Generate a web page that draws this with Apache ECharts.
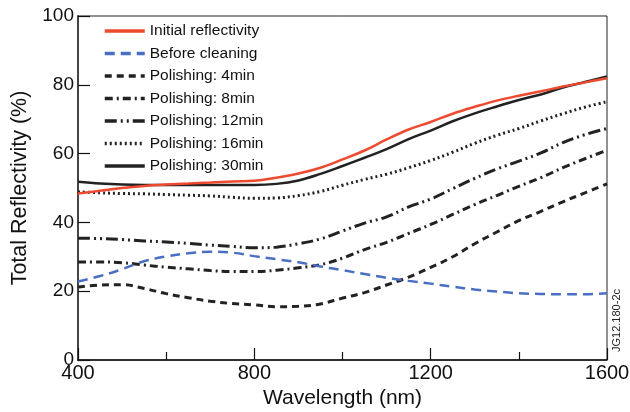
<!DOCTYPE html>
<html><head><meta charset="utf-8">
<script src="https://cdn.jsdelivr.net/npm/echarts@6/dist/echarts.min.js"></script>
<style>html,body{margin:0;padding:0;background:#fff}#c{width:630px;height:412px}</style>
</head><body><div id="c"></div>
<script>
var wavelengths = [400,450,500,550,600,650,700,750,800,850,900,950,1000,1050,1100,1150,1200,1250,1300,1350,1400,1450,1500,1550,1600];
var initialRefl = [48.4,49.2,50.0,50.6,51.0,51.3,51.6,51.9,52.1,53.0,54.2,55.9,58.3,60.9,64.1,67.0,69.2,71.6,73.6,75.4,76.8,78.1,79.5,80.7,81.9];
var beforeCleaning = [22.8,24.4,26.4,28.7,30.1,31.0,31.5,31.2,30.2,29.3,28.4,27.2,26.1,25.0,23.9,23.0,22.2,21.3,20.5,19.9,19.4,19.2,19.1,19.1,19.4];
var pol4 = [21.2,21.8,21.9,20.8,19.3,18.1,17.1,16.4,16.0,15.5,15.6,16.3,18.0,19.6,21.8,24.1,26.9,30.0,33.8,37.2,40.5,43.2,46.0,48.6,51.2];
var pol8 = [28.5,28.5,28.3,27.6,27.0,26.5,26.0,25.7,25.7,26.1,26.8,27.7,29.6,32.1,34.2,36.8,39.4,42.3,45.2,47.8,50.5,53.0,55.9,58.5,61.0];
var pol12 = [35.4,35.3,35.0,34.6,34.3,33.9,33.4,33.0,32.6,32.8,33.8,35.2,37.5,39.8,41.6,44.5,46.8,49.8,52.8,55.5,57.8,60.2,63.2,65.5,67.3];
var pol16 = [48.9,48.6,48.4,48.3,48.1,47.9,47.7,47.3,47.0,47.1,47.8,49.0,50.8,52.5,54.0,55.9,58.0,60.4,63.0,65.3,67.3,69.5,71.6,73.5,75.1];
var pol30 = [51.8,51.3,51.0,50.9,50.9,50.9,50.9,50.9,50.9,51.2,52.2,54.1,56.4,58.8,61.3,64.2,66.7,69.4,71.7,73.7,75.6,77.2,79.2,80.8,82.4];
var seriesNames = ['Initial reflectivity','Before cleaning','Polishing: 4min','Polishing: 8min','Polishing: 12min','Polishing: 16min','Polishing: 30min'];
var xTicks = [400,800,1200,1600];
var yTicks = [0,20,40,60,80,100];

function pairs(arr){ return wavelengths.map(function(w,i){ return [w, arr[i]]; }); }
var styles = [
  {color:'#ee4a2f', width:2.5, type:'solid'},
  {color:'#4a6fc2', width:2.5, type:[10,6]},
  {color:'#222', width:3, type:[7,5]},
  {color:'#222', width:3, type:[8,4,2,4]},
  {color:'#222', width:3, type:[12,4,2,4,2,4]},
  {color:'#222', width:3, type:[2,3]},
  {color:'#222', width:2.5, type:'solid'}
];
var datas = [initialRefl, beforeCleaning, pol4, pol8, pol12, pol16, pol30];
var series = datas.map(function(d,i){
  return {
    name: seriesNames[i], type:'line', data: pairs(d), smooth:0.4, symbol:'none',
    lineStyle:{color:styles[i].color, width:styles[i].width, type:styles[i].type},
    itemStyle:{color:styles[i].color}, z: 10 - i
  };
});
var font = 'Liberation Sans, Arial, sans-serif';
var chart = echarts.init(document.getElementById('c'));
chart.setOption({
  animation:false,
  grid:{left:78, right:23, top:16, bottom:52, show:true, borderColor:'#222', borderWidth:1, containLabel:false, outerBoundsMode:'none'},
  legend:{
    data: seriesNames, orient:'vertical', left:103, top:22, padding:0, itemWidth:40, itemHeight:14, itemGap:4.5,
    itemStyle:{opacity:0},
    lineStyle:{width:3.5},
    textStyle:{fontFamily:font, fontSize:15.5, color:'#111', lineHeight:18}
  },
  xAxis:{
    type:'value', min:400, max:1600, interval:400,
    name:'Wavelength (nm)', nameLocation:'middle', nameGap:27,
    nameTextStyle:{fontFamily:font, fontSize:21, color:'#111'},
    axisLine:{show:true, lineStyle:{color:'#111', width:1.5}},
    axisTick:{show:true, inside:true, length:12, lineStyle:{color:'#111', width:1.2}},
    minorTick:{show:true, splitNumber:2, length:8, lineStyle:{color:'#111', width:1.2}},
    axisLabel:{fontFamily:font, fontSize:20, color:'#111', margin:3, formatter:function(v){return String(v);}},
    splitLine:{show:false}
  },
  yAxis:{
    type:'value', min:0, max:100, interval:20,
    name:'Total Reflectivity (%)', nameLocation:'middle', nameGap:45,
    nameTextStyle:{fontFamily:font, fontSize:21.5, color:'#111'},
    axisLine:{show:true, lineStyle:{color:'#444', width:2}},
    axisTick:{show:true, inside:true, length:12, lineStyle:{color:'#111', width:1.2}},
    axisLabel:{fontFamily:font, fontSize:19, color:'#111', margin:4},
    splitLine:{show:false}
  },
  graphic:[{
    type:'text', left:611, top:289, rotation:Math.PI/2,
    style:{text:'JG12.180-2c', fontFamily:font, fontSize:11, fill:'#222'}
  }],
  series: series
});
</script></body></html>
